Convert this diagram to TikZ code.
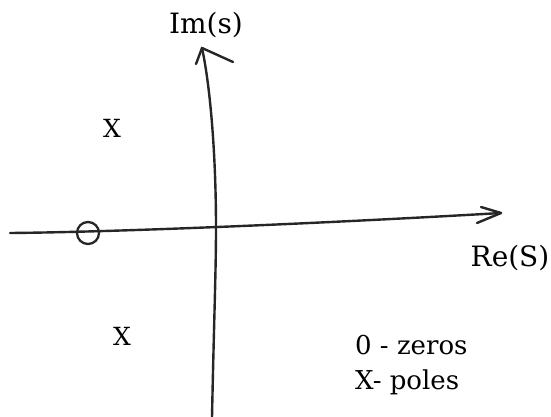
\documentclass[tikz,border=0pt]{standalone}
\usepackage{fontspec}
\setmainfont{DejaVu Serif}
\usetikzlibrary{positioning}

\begin{document}
\begin{tikzpicture}[x=1pt, y=-1pt,
        axisline/.style={line width=2.4pt, draw=black!85, line cap=round, line join=round},
        axislabel/.style={font=\fontsize{28}{32}\selectfont, inner sep=0pt},
        polemark/.style={font=\fontsize{25}{28}\selectfont, inner sep=0pt},
        zeromark/.style={draw=black!85, line width=2.3pt, circle, minimum width=22pt, inner sep=0pt},
        legendtext/.style={font=\fontsize{26}{30}\selectfont, inner sep=0pt, anchor=base west}]
        \useasboundingbox (0,0) rectangle (551,417);

        % Imaginary axis
        \coordinate (imbot) at (212,417);
        \coordinate (origin) at (216,228);
        \coordinate (imtip) at (202,48);
        \coordinate (imarml) at (196,64);
        \coordinate (imarmr) at (233,62);
        \draw[axisline] (imbot) .. controls (214,320) and (216,270) .. (origin)
                        .. controls (216,160) and (211,90) .. (imtip);
        \draw[axisline] (imarml) -- (imtip) -- (imarmr);

        % Real axis
        \coordinate (releft) at (10,233);
        \coordinate (retip) at (501,213);
        \coordinate (rearmu) at (481,207);
        \coordinate (rearml) at (477,223);
        \draw[axisline] (releft) .. controls (120,232) and (330,223) .. (retip);
        \draw[axisline] (rearmu) -- (retip) -- (rearml);

        % Zero and poles
        \node[zeromark] (zero) at (88,233) {};
        \node[polemark] (poleup) at (112,128) {X};
        \node[polemark] (poledown) at (122,336) {X};

        % Axis labels
        \node[axislabel] (imlabel) at (206,25) {Im(s)};
        \node[axislabel] (relabel) at (510,258) {Re(S)};

        % Legend
        \node[legendtext] (legzero) at (355,354) {0 - zeros};
        \node[legendtext] (legpole) at (355,389) {X- poles};
    \end{tikzpicture}
\end{document}
